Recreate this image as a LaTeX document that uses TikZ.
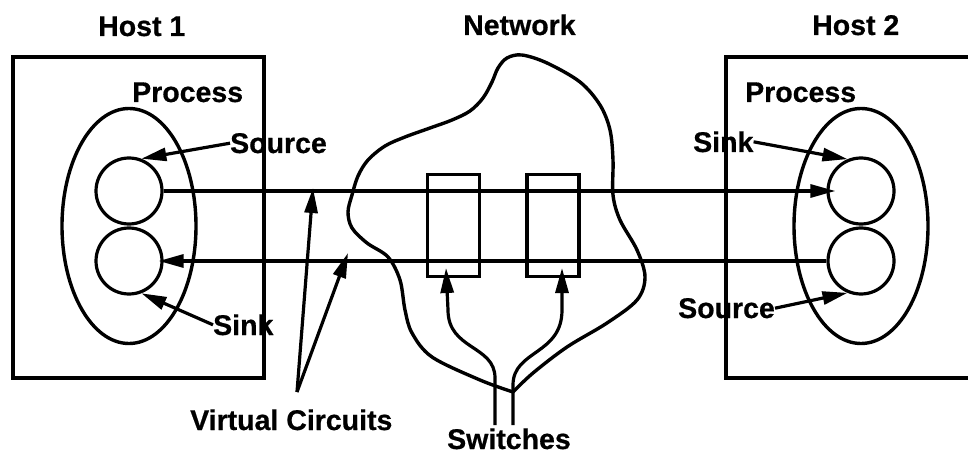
\documentclass[tikz,border=0pt]{standalone}
\usepackage{fontspec}
\setmainfont{Liberation Sans}[BoldFeatures={FakeBold=0.6}]
\usetikzlibrary{shapes.geometric,arrows.meta}
\begin{document}
\begin{tikzpicture}[x=1pt,y=-1pt,
  lbl/.style={font=\fontsize{28.5}{31}\selectfont\bfseries, inner sep=0pt, anchor=base west},
  ln/.style={line width=3.2pt, line join=round},
  arr/.style={ln, -{Triangle[length=25pt,width=13pt]}},
  proc/.style={ellipse, draw, line width=3.4pt, inner sep=0pt, minimum width=134pt, minimum height=235pt},
  port/.style={circle, draw, line width=3.2pt, inner sep=0pt, minimum size=66pt},
  switchbox/.style={rectangle, draw, line width=3.6pt, inner sep=0pt, minimum width=52pt, minimum height=102pt}]
\useasboundingbox (0,0) rectangle (968,454);

% labels
\node[lbl] (host1) at (98,36) {Host 1};
\node[lbl] (net) at (463,35) {Network};
\node[lbl] (host2) at (812,35) {Host 2};
\node[lbl] (procL) at (132,102) {Process};
\node[lbl] (procR) at (745,102) {Process};
\node[lbl] (srcL) at (230,153) {Source};
\node[lbl] (sinkL) at (213,335) {Sink};
\node[lbl] (sinkR) at (693,152) {Sink};
\node[lbl] (srcR) at (678,318) {Source};
\node[lbl] (vc) at (190,430) {Virtual Circuits};
\node[lbl] (sw) at (447,449) {Switches};

% host boxes
\draw[line width=3.6pt] (13,57) rectangle (264,378);
\draw[line width=3.6pt] (970,57) -- (726,57) -- (726,378) -- (970,378);

% processes
\node[proc] (pL) at (129,226) {};
\node[proc] (pR) at (861,226) {};
\node[port] (cL1) at (129,191) {};
\node[port] (cL2) at (129,261) {};
\node[port] (cR1) at (861,191) {};
\node[port] (cR2) at (861,261) {};

% network cloud
\draw[line width=3.4pt, line join=round] plot[smooth, tension=0.55] coordinates {
 (513,392) (533,373) (567,347) (607,323) (637,300) (645,277) (637,250) (620,220)
 (613,195) (613,160) (610,130) (600,105) (580,82) (547,63) (522,55) (507,58)
 (498,68) (492,82) (483,98) (470,111) (452,120) (430,128) (405,137) (385,146)
 (368,160) (358,176) (352,195) (348,212) (352,228) (367,243) (388,257) (400,280)
 (405,310) (412,333) (432,357) (480,380) (513,392)};

% switches
\node[switchbox] (sw1) at (453.5,225.5) {};
\node[switchbox] (sw2) at (553,225.5) {};

% virtual circuits
\draw[arr] (cL1.east) -- ([xshift=9pt]cR1.west);
\draw[arr] (cR2.west) -- ([xshift=-5pt]cL2.east);

% label arrows
\draw[arr] (srcL.west) -- (cL1.69);
\draw[arr] (sinkL.west) -- (cL2.-69);
\draw[arr] (sinkR.east) -- (cR1.113);
\draw[arr] (srcR.east) -- (cR2.247);

% virtual circuit pointers
\coordinate (vcapex) at (297,392);
\coordinate (vc1) at (313,188);
\coordinate (vc2) at (348,253);
\draw[arr] (vcapex) -- (vc1);
\draw[arr] (vcapex) -- (vc2);

% switch pointers
\coordinate (swa) at (495,425);
\coordinate (swb) at (513,425);
\coordinate (t1) at (446,268);
\coordinate (t2) at (562,268);
\draw[arr] (swa) -- (495,378) .. controls (495,345) and (448,350) .. (448,310) -- (t1);
\draw[arr] (swb) -- (513,385) .. controls (513,350) and (562,355) .. (562,310) -- (t2);
\end{tikzpicture}
\end{document}
